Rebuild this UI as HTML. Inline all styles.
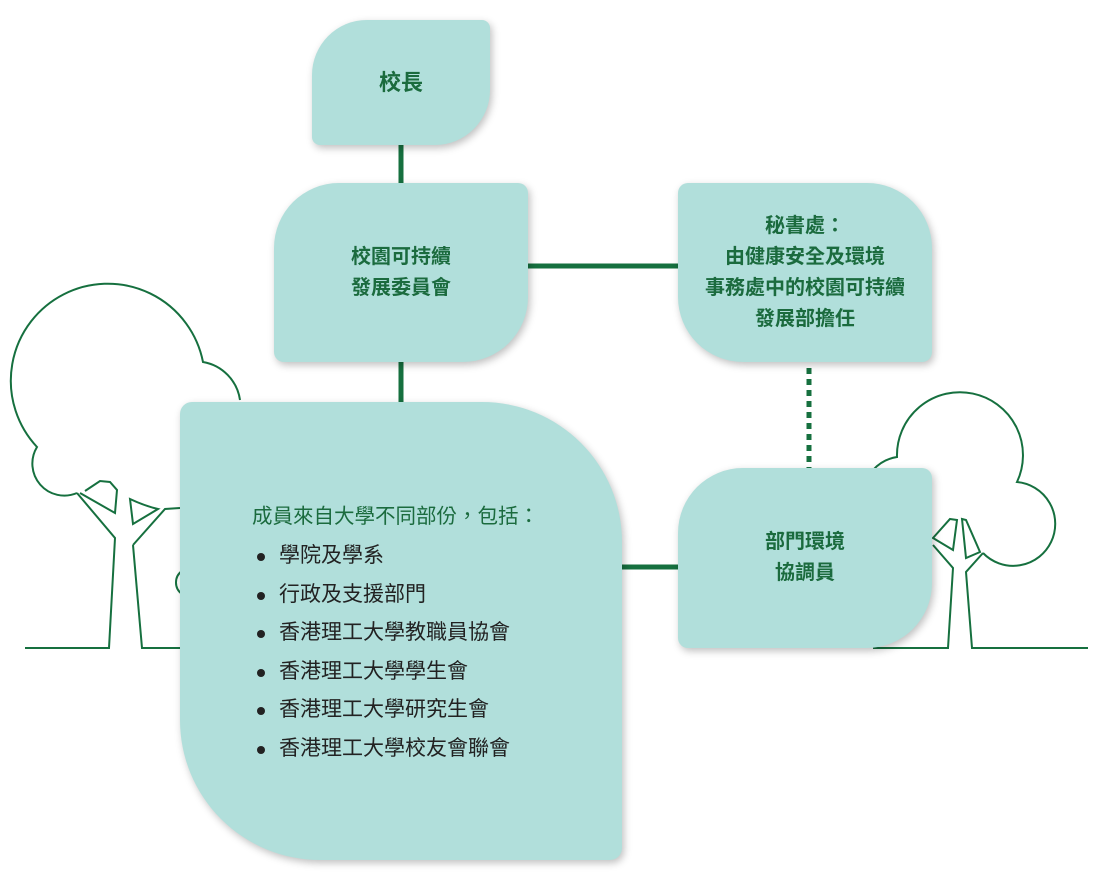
<!DOCTYPE html>
<html><head><meta charset="utf-8"><style>
body{margin:0;background:#fff;width:1100px;height:885px;position:relative;overflow:hidden;font-family:"Liberation Sans","Noto Sans CJK TC",sans-serif}
.b{position:absolute;background:#b1dfdb;box-shadow:2px 3px 8px rgba(0,0,0,.25);display:flex;align-items:center;justify-content:center;text-align:center;color:#1b6b3e;font-weight:bold;font-size:20px;line-height:31px}
ul{margin:0;padding:0;list-style:none}
li{position:relative;padding-left:26px;color:#222;font-size:21px;line-height:38.5px;white-space:nowrap}
li:before{content:"";position:absolute;left:4px;top:16px;width:8px;height:8px;border-radius:50%;background:#222}
</style></head><body>
<svg width="1100" height="885" style="position:absolute;left:0;top:0" fill="none" stroke="#16703f" stroke-width="2">
<!-- left tree -->
<path d="M77,493 A32,32 0 0 1 37,447 A97,97 0 1 1 203,362 A45,45 0 0 1 240,400"/>
<path d="M80,493 L115,513 L117,490 L110,482 L100,481 L85,491"/>
<path d="M77,493 L115,538 L109,648 L25,648 M133,545 L142,648 L180,648 M133,545 L165,509 L180,508 M130,499 L133,524 L158,509 Q145,506 130,499 Z"/>
<path d="M182,571 A14,14 0 0 0 182,594"/>
<!-- right tree -->
<path d="M873,470 A40,40 0 0 1 897,457 A63,63 0 1 1 1017,482 A42,42 0 1 1 983,553"/>
<path d="M950,519 L957,520 L953,550 L933,538 Z M962,519 L966,520 L980,552 L966,558 Z"/>
<path d="M933,545 L953,568 L948,648 L873,648 M983,553 L966,572 L972,648 L1088,648"/>
<g stroke-width="5">
<line x1="401" y1="145" x2="401" y2="183"/>
<line x1="528" y1="266" x2="678" y2="266"/>
<line x1="401" y1="362" x2="401" y2="402"/>
<line x1="622" y1="567" x2="678" y2="567"/>
<line x1="809" y1="368" x2="809" y2="468" stroke-dasharray="6,5"/>
</g>
</svg>
<div class="b" style="left:312px;top:20px;width:178px;height:125px;border-radius:55px 8px 55px 8px;font-size:22px">校長</div>
<div class="b" style="left:274px;top:183px;width:254px;height:179px;border-radius:65px 10px 65px 10px">校園可持續<br>發展委員會</div>
<div class="b" style="left:678px;top:183px;width:254px;height:179px;border-radius:10px 65px 10px 65px">秘書處：<br>由健康安全及環境<br>事務處中的校園可持續<br>發展部擔任</div>
<div class="b" style="left:678px;top:468px;width:254px;height:180px;border-radius:65px 10px 65px 10px">部門環境<br>協調員</div>
<div class="b" style="left:180px;top:402px;width:442px;height:458px;border-radius:12px 140px 12px 140px;display:block;text-align:left">
<div style="position:absolute;left:72px;top:100px;font-size:20.5px;font-weight:normal;line-height:30px;white-space:nowrap">成員來自大學不同部份，包括：</div>
<ul style="position:absolute;left:73px;top:135px;font-weight:normal">
<li>學院及學系</li><li>行政及支援部門</li><li>香港理工大學教職員協會</li><li>香港理工大學學生會</li><li>香港理工大學研究生會</li><li>香港理工大學校友會聯會</li>
</ul></div>
</body></html>
